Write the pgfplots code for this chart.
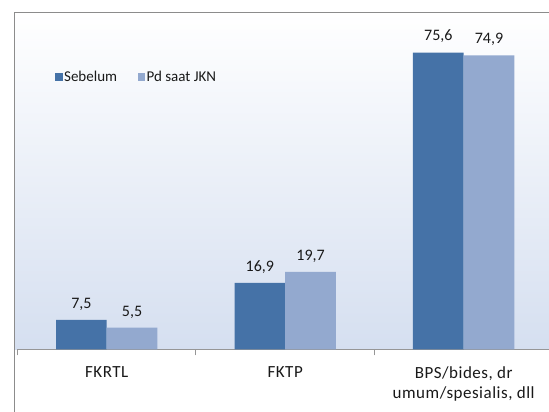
\documentclass[border=0pt]{standalone}
\usepackage{fontspec}
\setmainfont{Carlito}
\usepackage{pgfplots}
\pgfplotsset{compat=1.18}
\definecolor{sebelum}{RGB}{69,114,167}
\definecolor{pdsaat}{RGB}{147,169,207}
\definecolor{bgbot}{RGB}{213,223,240}
\definecolor{framegray}{RGB}{140,140,140}
\definecolor{axisgray}{RGB}{150,150,150}
\definecolor{txt}{RGB}{25,25,25}
\pgfplotsset{sqlegend/.style={legend image code/.code={\fill[##1] (0pt,-3.7pt) rectangle (7.4pt,3.7pt);}}}
\begin{document}
\begin{tikzpicture}[x=1pt,y=1pt]
\useasboundingbox (0,0) rectangle (549,412);
\shade[top color=white, bottom color=bgbot] (14.5,62.7) rectangle (549,399.3);
\draw[framegray, line width=1.5pt] (14.5,0) -- (14.5,399.3) -- (560,399.3);
\begin{axis}[
  at={(17.5pt,62.7pt)}, anchor=south west,
  scale only axis, width=531.5pt, height=336.6pt,
  xmin=-0.5, xmax=2.478, ymin=0, ymax=85.74,
  ybar=0pt, bar width=50.7pt,
  axis x line*=bottom, axis y line=none,
  x axis line style={axisgray, line width=1.5pt, -},
  xtick={0,1,2},
  xticklabels={FKRTL, FKTP, {BPS/bides, dr\\umum/spesialis, dll}},
  major tick length=0pt,
  tick style={axisgray, line width=1pt},
  extra x ticks={-0.5,0.5,1.5},
  extra x tick labels={},
  extra x tick style={major tick length=6pt, tick align=outside},
  xticklabel style={font=\fontsize{17}{19.5}\selectfont\addfontfeatures{LetterSpace=3}, text=txt, align=center, yshift=-14pt},
  nodes near coords,
  nodes near coords style={font=\fontsize{16}{18}\selectfont, text=txt, yshift=6pt},
  /pgf/number format/use comma,
  /pgf/number format/fixed,
  /pgf/number format/fixed zerofill,
  /pgf/number format/precision=1,
  /pgf/number format/assume math mode=true,
  legend style={at={(0.0706,0.809)}, anchor=west, draw=none, fill=none,
    font=\fontsize{15}{16}\selectfont, text=txt, inner sep=0pt,
    nodes={inner sep=1.5pt},
    /tikz/every even column/.append style={column sep=19pt}},
  legend columns=2,
  legend cell align=left,
  clip=false,
]
\addplot[fill=sebelum, draw=none, sqlegend] coordinates {(0,7.5) (1,16.9) (2,75.6)};
\addplot[fill=pdsaat, draw=none, sqlegend] coordinates {(0,5.5) (1,19.7) (2,74.9)};
\legend{Sebelum, Pd saat JKN}
\end{axis}
\end{tikzpicture}
\end{document}
